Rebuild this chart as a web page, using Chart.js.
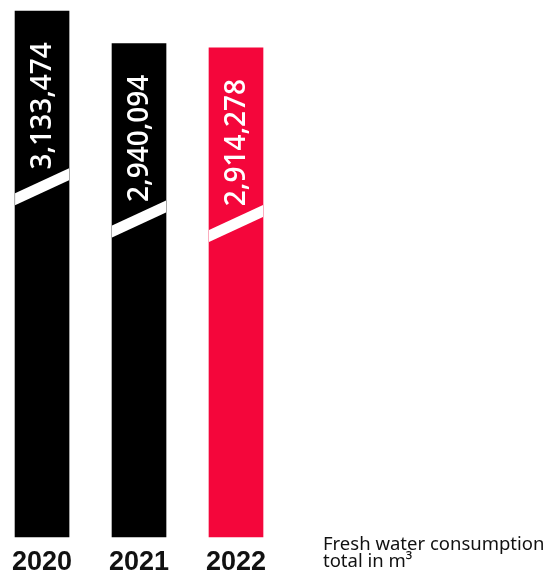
<!DOCTYPE html>
<html>
<head>
<meta charset="utf-8">
<script src="https://cdn.jsdelivr.net/npm/chart.js@4"></script>
<style>
  body { margin: 0; background: #fff; }
  #wrap { position: relative; width: 547px; height: 573px; overflow: hidden; }
  #caption {
    position: absolute; left: 323px; top: 534px;
    font-family: "Noto Sans", sans-serif; font-size: 18.5px; line-height: 17px; color: #111;
  }
</style>
</head>
<body>
<div id="wrap">
  <canvas id="water_chart" width="547" height="573"></canvas>
  <div id="caption">Fresh water consumption<br>total in m³</div>
</div>
<script>
const years = ['2020', '2021', '2022'];
const consumption = [3133474, 2940094, 2914278];
const barColors = ['#000000', '#000000', '#f4063b'];

const water_chart = document.getElementById('water_chart');

// white label inside each bar, plus the diagonal "break" cut
const barDecor = {
  id: 'barDecor',
  afterDatasetsDraw(chart) {
    const ctx = chart.ctx;
    const bars = chart.getDatasetMeta(0).data;
    bars.forEach((bar, i) => {
      const left = bar.x - bar.width / 2;
      const right = bar.x + bar.width / 2;
      const top = bar.y;

      // break stripe
      ctx.save();
      ctx.fillStyle = '#ffffff';
      ctx.beginPath();
      ctx.moveTo(left, top + 182);
      ctx.lineTo(right, top + 157);
      ctx.lineTo(right, top + 169);
      ctx.lineTo(left, top + 194);
      ctx.closePath();
      ctx.fill();
      ctx.restore();

      // value text, rotated
      ctx.save();
      ctx.translate(bar.x, top + 31);
      ctx.rotate(-Math.PI / 2);
      ctx.fillStyle = '#ffffff';
      ctx.font = '600 28px "Open Sans", sans-serif';
      ctx.textAlign = 'right';
      ctx.textBaseline = 'middle';
      ctx.fillText(consumption[i].toLocaleString('en-US'), 0, 1);
      ctx.restore();
    });
  }
};

new Chart(water_chart, {
  type: 'bar',
  data: {
    labels: years,
    datasets: [
      {
        data: consumption,
        backgroundColor: barColors,
        barThickness: 54,
        borderWidth: 0,
        clip: false
      }
    ]
  },
  options: {
    responsive: false,
    animation: false,
    // labels in the original run off the bottom edge
    layout: { padding: { left: 42, right: 311, top: 0, bottom: -15 } },
    plugins: {
      legend: { display: false },
      tooltip: { enabled: false }
    },
    scales: {
      x: {
        offset: false,
        grid: { display: false, drawTicks: false },
        border: { display: false },
        ticks: {
          color: '#111',
          padding: 12,
          maxRotation: 0,
          minRotation: 0,
          font: { family: '"Liberation Sans", sans-serif', size: 27, weight: 'bold', lineHeight: 1 }
        }
      },
      y: {
        display: false,
        min: 0,
        max: 3200000
      }
    }
  },
  plugins: [barDecor]
});
</script>
</body>
</html>
